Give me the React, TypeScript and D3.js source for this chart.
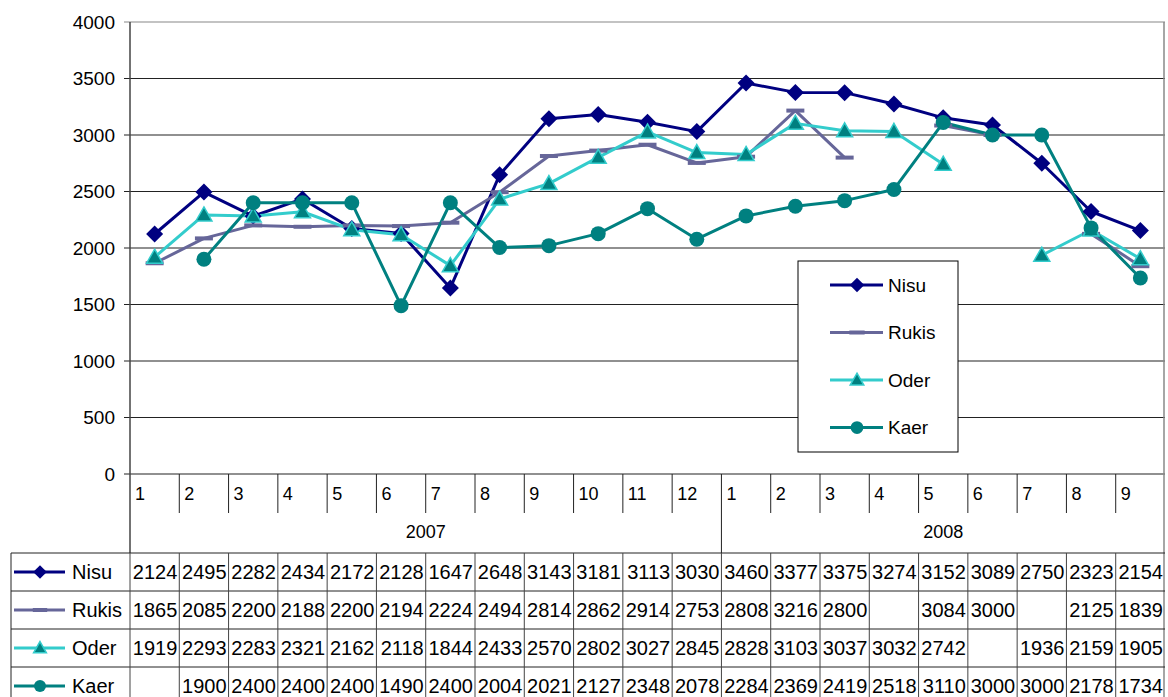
import React from "react";
import * as d3 from "d3";

const months = ["1","2","3","4","5","6","7","8","9","10","11","12","1","2","3","4","5","6","7","8","9"];
const years = [{ label: "2007", start: 0, end: 12 }, { label: "2008", start: 12, end: 21 }];
const yTicks = [0, 500, 1000, 1500, 2000, 2500, 3000, 3500, 4000];

const nisu = [2124,2495,2282,2434,2172,2128,1647,2648,3143,3181,3113,3030,3460,3377,3375,3274,3152,3089,2750,2323,2154];
const rukis = [1865,2085,2200,2188,2200,2194,2224,2494,2814,2862,2914,2753,2808,3216,2800,null,3084,3000,null,2125,1839];
const oder = [1919,2293,2283,2321,2162,2118,1844,2433,2570,2802,3027,2845,2828,3103,3037,3032,2742,null,1936,2159,1905];
const kaer = [null,1900,2400,2400,2400,1490,2400,2004,2021,2127,2348,2078,2284,2369,2419,2518,3110,3000,3000,2178,1734];

type Series = { name: string; values: (number | null)[]; color: string; marker: string; markerFill: string };
const series: Series[] = [
  { name: "Nisu", values: nisu, color: "#000080", marker: "diamond", markerFill: "#000080" },
  { name: "Rukis", values: rukis, color: "#666699", marker: "dash", markerFill: "#666699" },
  { name: "Oder", values: oder, color: "#33CCCC", marker: "triangle", markerFill: "#008080" },
  { name: "Kaer", values: kaer, color: "#008080", marker: "circle", markerFill: "#008080" },
];

const FONT = "Liberation Sans, Arial, sans-serif";

function Marker({ s, x, y, scale = 1 }: { s: Series; x: number; y: number; scale?: number }) {
  if (s.marker === "diamond") {
    const r = 8.5 * scale;
    return <path d={`M${x},${y - r}L${x + r},${y}L${x},${y + r}L${x - r},${y}Z`} fill={s.markerFill} />;
  }
  if (s.marker === "circle") {
    return <circle cx={x} cy={y} r={7.5 * scale} fill={s.markerFill} />;
  }
  if (s.marker === "triangle") {
    const r = 8 * scale;
    return <path d={`M${x},${y - r}L${x + r},${y + r * 0.75}L${x - r},${y + r * 0.75}Z`} fill={s.markerFill} stroke={s.color} strokeWidth={1.5} />;
  }
  return <rect x={x - 9 * scale} y={y - 2} width={18 * scale} height={4} fill={s.markerFill} />;
}

export default function App() {
  const W = 1168, H = 697;
  const left = 130, right = 1165, top = 22, bottom = 474;
  const x = d3.scaleBand<number>().domain(d3.range(months.length)).range([left, right]).padding(0);
  const y = d3.scaleLinear().domain([0, 4000]).range([bottom, top]);
  const bw = x.bandwidth();
  const cx = (i: number) => (x(i) as number) + bw / 2;
  const line = d3.line<number | null>()
    .defined((d) => d != null)
    .x((_, i) => cx(i))
    .y((d) => y(d as number));

  const tableTop = 553;
  const rowH = 38;
  const tableLeft = 11;
  const catBottom = 513;

  return (
    <svg width={W} height={H} style={{ position: "absolute", left: 0, top: 0, background: "#fff" }} fontFamily={FONT}>
      <rect x={0} y={0} width={W} height={H} fill="#fff" />
      {yTicks.map((t) => (
        <g key={t}>
          <line x1={left - 6} x2={right} y1={y(t)} y2={y(t)} stroke={t === 4000 ? "#888" : "#222"} strokeWidth={1.2} />
          <text x={115} y={y(t) + 6.5} textAnchor="end" fontSize={19} fill="#000">{t}</text>
        </g>
      ))}
      <line x1={left} x2={left} y1={top} y2={tableTop} stroke="#444" strokeWidth={1.5} />
      <line x1={right - 1} x2={right - 1} y1={top} y2={H} stroke="#888" strokeWidth={1.5} />
      {months.map((m, i) => (
        <g key={i}>
          {i > 0 && <line x1={x(i)} x2={x(i)} y1={bottom} y2={years.some((yy) => yy.start === i) ? tableTop : catBottom} stroke="#222" strokeWidth={1} />}
          <text x={(x(i) as number) + 5} y={500} fontSize={18} fill="#000">{m}</text>
        </g>
      ))}
      {years.map((yy) => (
        <text key={yy.label} x={((x(yy.start) as number) + (yy.end < months.length ? (x(yy.end) as number) : right)) / 2} y={538} textAnchor="middle" fontSize={18} fill="#000">{yy.label}</text>
      ))}
      {series.map((s) => (
        <path key={s.name} d={line(s.values) || ""} fill="none" stroke={s.color} strokeWidth={3} strokeLinejoin="round" />
      ))}
      {series.map((s) => (
        <g key={s.name + "m"}>
          {s.values.map((v, i) => (v == null ? null : <Marker key={i} s={s} x={cx(i)} y={y(v)} />))}
        </g>
      ))}
      <rect x={798} y={261} width={160} height={191} fill="#fff" stroke="#000" strokeWidth={1} />
      {series.map((s, k) => {
        const ly = 285 + k * 47.5;
        return (
          <g key={s.name + "l"}>
            <line x1={830} x2={883} y1={ly} y2={ly} stroke={s.color} strokeWidth={3} />
            <Marker s={s} x={857} y={ly} scale={0.85} />
            <text x={888} y={ly + 6.5} fontSize={19} fill="#000">{s.name}</text>
          </g>
        );
      })}
      {series.map((s, r) => {
        const ry = tableTop + r * rowH;
        const my = ry + rowH / 2;
        return (
          <g key={s.name + "t"}>
            <line x1={tableLeft} x2={right} y1={ry} y2={ry} stroke="#222" strokeWidth={1} />
            <line x1={14} x2={65} y1={my} y2={my} stroke={s.color} strokeWidth={3} />
            <Marker s={s} x={40} y={my} scale={0.8} />
            <text x={72} y={my + 7} fontSize={20} fill="#000">{s.name}</text>
            {s.values.map((v, i) => (v == null ? null : (
              <text key={i} x={(x(i) as number) + bw - 2} y={my + 7} textAnchor="end" fontSize={20} fill="#000">{v}</text>
            )))}
          </g>
        );
      })}
      <line x1={tableLeft} x2={tableLeft} y1={tableTop} y2={H} stroke="#222" strokeWidth={1} />
      {months.map((_, i) => (
        <line key={"tv" + i} x1={x(i)} x2={x(i)} y1={tableTop} y2={H} stroke="#444" strokeWidth={1} />
      ))}
    </svg>
  );
}
